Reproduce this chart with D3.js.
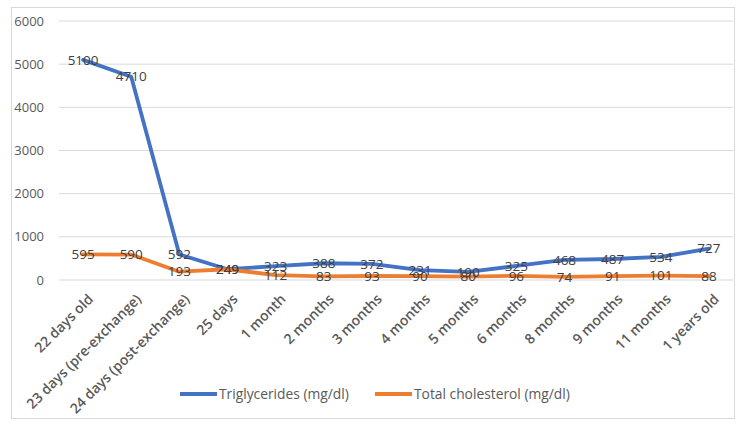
<!DOCTYPE html>
<html>
<head>
<meta charset="utf-8">
<script src="https://cdn.jsdelivr.net/npm/d3@7"></script>
<style>
  body { margin: 0; background: #fff; }
  text { font-family: "Open Sans", "DejaVu Sans", sans-serif; }
</style>
</head>
<body>
<script>
const categories = ["22 days old", "23 days (pre-exchange)", "24 days (post-exchange)", "25 days",
  "1 month", "2 months", "3 months", "4 months", "5 months", "6 months",
  "8 months", "9 months", "11 months", "1 years old"];
const triglycerides = [5100, 4710, 592, 249, 323, 388, 372, 231, 190, 325, 468, 487, 534, 727];
const cholesterol = [595, 590, 193, 249, 112, 83, 93, 90, 80, 96, 74, 91, 101, 88];
const yTicks = [0, 1000, 2000, 3000, 4000, 5000, 6000];

const series = [
  {name: "Triglycerides (mg/dl)", values: triglycerides, color: "#4472C4"},
  {name: "Total cholesterol (mg/dl)", values: cholesterol, color: "#ED7D31"}
];

const width = 750, height = 428;
const plotLeft = 59, plotRight = 733, plotTop = 21, plotBottom = 280;

const svg = d3.select("body").append("svg")
  .attr("width", width).attr("height", height);

// outer frame
svg.append("rect")
  .attr("x", 11.5).attr("y", 7.5)
  .attr("width", 723).attr("height", 411)
  .attr("fill", "#fff").attr("stroke", "#d9d9d9");

const x = d3.scaleBand().domain(categories).range([plotLeft, plotRight]);
const y = d3.scaleLinear().domain([0, 6000]).range([plotBottom, plotTop]);

// gridlines
svg.append("g").selectAll("line")
  .data(yTicks)
  .join("line")
  .attr("x1", plotLeft).attr("x2", plotRight)
  .attr("y1", d => y(d)).attr("y2", d => y(d))
  .attr("stroke", "#d9d9d9").attr("stroke-width", 1);

svg.append("g").selectAll("text")
  .data(yTicks)
  .join("text")
  .attr("x", 44).attr("y", d => y(d))
  .attr("dy", "0.35em")
  .attr("text-anchor", "end")
  .attr("font-size", 13)
  .attr("fill", "#595959")
  .text(d => d);

// x labels, rotated like excel does
svg.append("g").selectAll("text")
  .data(categories)
  .join("text")
  .attr("transform", d => `translate(${x(d) + x.bandwidth() / 2 + 11},${plotBottom + 20}) rotate(-45)`)
  .attr("text-anchor", "end")
  .attr("font-size", 14)
  .attr("font-weight", 600)
  .attr("fill", "#595959")
  .text(d => d);

const line = d3.line()
  .x((d, i) => x(categories[i]) + x.bandwidth() / 2)
  .y(d => y(d));

series.forEach(s => {
  svg.append("path")
    .datum(s.values)
    .attr("d", line)
    .attr("fill", "none")
    .attr("stroke", s.color)
    .attr("stroke-width", 3.8)
    .attr("stroke-linejoin", "round")
    .attr("stroke-linecap", "round");
});

series.forEach(s => {
  svg.append("g").selectAll("text")
    .data(s.values)
    .join("text")
    .attr("x", (d, i) => x(categories[i]) + x.bandwidth() / 2)
    .attr("y", d => y(d))
    .attr("dy", "0.35em")
    .attr("text-anchor", "middle")
    .attr("font-size", 13.5)
    .attr("fill", "#404040")
    .text(d => d);
});

// legend
const legendX = [180, 375];
series.forEach((s, i) => {
  const g = svg.append("g").attr("transform", `translate(${legendX[i]},394)`);
  g.append("line")
    .attr("x1", 0).attr("x2", 37)
    .attr("stroke", s.color).attr("stroke-width", 3.8);
  g.append("text")
    .attr("x", 39).attr("dy", "0.35em")
    .attr("font-size", 13.8)
    .attr("fill", "#595959")
    .text(s.name);
});
</script>
</body>
</html>
